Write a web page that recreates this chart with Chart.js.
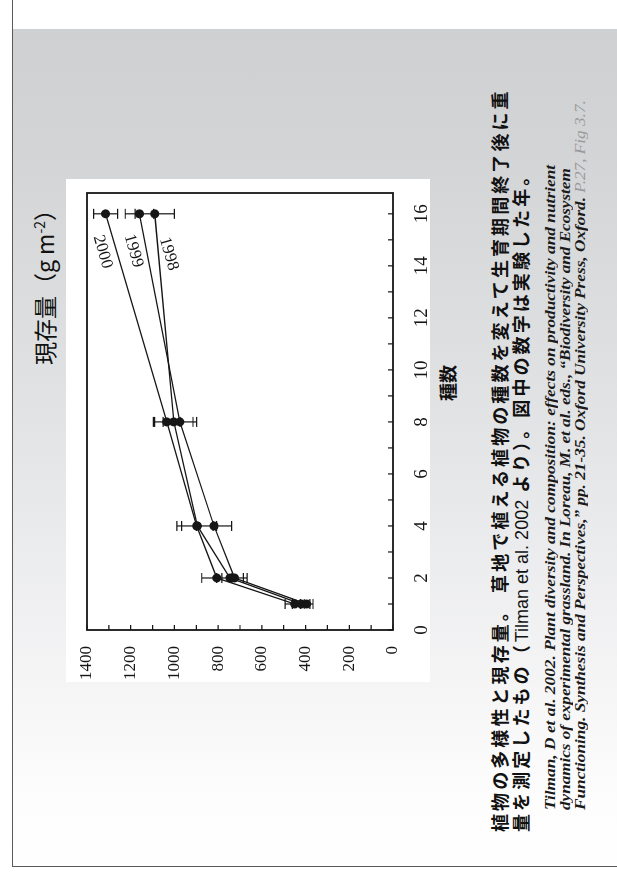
<!DOCTYPE html>
<html lang="ja">
<head>
<meta charset="utf-8">
<title>植物の多様性と現存量</title>
<script src="https://cdn.jsdelivr.net/npm/chart.js@4/dist/chart.umd.min.js"></script>
<style>
  html, body { margin: 0; padding: 0; width: 617px; height: 872px; overflow: hidden; background: #fff; }
  /* the slide is laid out landscape and turned a quarter turn */
  #stage { position: absolute; left: 0; top: 0; width: 872px; height: 617px;
           transform-origin: 0 0; transform: translateY(872px) rotate(-90deg); }
  #panel { position: absolute; left: 5px; top: 12px; width: 867px; height: 605px;
           border-left: 1.5px solid #5a5a5a; border-top: 1.5px solid #5a5a5a;
           background: linear-gradient(to right, #fefefe 0px, #fdfdfd 67px, #f6f6f7 167px,
                       #e1e2e4 467px, #d3d4d6 717px, #cfd0d2 837px, #fff 837px, #fff 867px); }
  #chartBox { position: absolute; left: 190px; top: 66px; width: 503px; height: 364px; background: #fff; }
  #chartBox canvas { display: block; }
  .ytitle { position: absolute; left: 507px; top: 29px; font: 400 23px "Noto Sans CJK JP", sans-serif;
            color: #111; white-space: nowrap; line-height: 30px; }
  .ytitle sup { font-size: 14px; vertical-align: 9px; line-height: 0; }
  .xtitle { position: absolute; left: 471px; top: 434px; font: 700 18px "Noto Sans CJK JP", sans-serif;
            color: #111; white-space: nowrap; line-height: 26px; }
  .caption { position: absolute; left: 40px; font: 700 18px "Noto Sans CJK JP", sans-serif;
             color: #111; white-space: nowrap; line-height: 21px; }
  .caption .lat { font-family: "Liberation Sans", sans-serif; font-weight: 400; letter-spacing: 0; }
  .cite { position: absolute; left: 62px; font: italic 700 14px "Liberation Serif", serif; color: #1a1a1a;
          white-space: nowrap; line-height: 15px; transform-origin: 0 50%; }
  .cite .pg { color: #9a9a9a; font-weight: 400; }
</style>
</head>
<body>
<div id="stage">
  <div id="panel"></div>
  <div id="chartBox"><canvas id="chart" width="503" height="364"></canvas></div>
  <div class="ytitle">現存量（g m<sup>-2</sup>）</div>
  <div class="xtitle">種数</div>
  <div class="caption" id="cap1" style="top:489px">植物の多様性と現存量。 草地で植える植物の種数を変えて生育期間終了後に重</div>
  <div class="caption" id="cap2" style="top:510px">量を測定したもの（<span class="lat">Tilman et al. 2002</span> より）。図中の数字は実験した年。</div>
  <div class="cite" id="cite1" style="top:543px">Tilman, D et al. 2002. Plant diversity and composition: effects on productivity and nutrient</div>
  <div class="cite" id="cite2" style="top:558px">dynamics of experimental grassland. In Loreau, M. et al. eds., “Biodiversity and Ecosystem</div>
  <div class="cite" id="cite3" style="top:573px">Functioning. Synthesis and Perspectives,” pp. 21-35. Oxford University Press, Oxford. <span class="pg">P.27, Fig 3.7.</span></div>
</div>
<script>
// number of planted species and standing biomass (g m-2) at the end of each season
const species = [1, 2, 4, 8, 16];
const years = ['2000', '1999', '1998'];
const biomass2000 = [450, 806, 898, 1035, 1315];
const biomass1999 = [395, 725, 819, 975, 1160];
const biomass1998 = [420, 746, 895, 1003, 1090];
const err2000 = [44, 69, 91, 61, 55];
const err1999 = [29, 58, 81, 77, 65];
const err1998 = [40, 61, 72, 88, 90];
const xTickLabels = [0, 2, 4, 6, 8, 10, 12, 14, 16];
const yTickLabels = [0, 200, 400, 600, 800, 1000, 1200, 1400];

const seriesValues = [biomass2000, biomass1999, biomass1998];
const seriesErrors = [err2000, err1999, err1998];
// where each year label sits relative to the last point of its line (px) and its tilt
const yearLabelOffsets = [[-38, -3], [-37, -6], [-40, 14]];
const yearLabelAngle = 164 * Math.PI / 180;

const ink = '#161616';

const errorBars = {
  id: 'errorBars',
  beforeDatasetsDraw(chart) {
    const { ctx, scales: { x, y } } = chart;
    ctx.save();
    ctx.strokeStyle = ink;
    ctx.lineWidth = 1.2;
    ctx.beginPath();
    seriesValues.forEach((vals, i) => {
      vals.forEach((v, j) => {
        const px = x.getPixelForValue(species[j]);
        const lo = y.getPixelForValue(v - seriesErrors[i][j]);
        const hi = y.getPixelForValue(v + seriesErrors[i][j]);
        ctx.moveTo(px, lo); ctx.lineTo(px, hi);
        ctx.moveTo(px - 5, lo); ctx.lineTo(px + 5, lo);
        ctx.moveTo(px - 5, hi); ctx.lineTo(px + 5, hi);
      });
    });
    ctx.stroke();
    ctx.restore();
  }
};

const frameAndTicks = {
  id: 'frameAndTicks',
  afterDraw(chart) {
    const { ctx, chartArea: a, scales: { x, y } } = chart;
    ctx.save();
    ctx.strokeStyle = ink;
    ctx.lineWidth = 1.2;
    ctx.beginPath();
    x.ticks.forEach(t => {
      const px = x.getPixelForValue(t.value);
      ctx.moveTo(px, a.bottom); ctx.lineTo(px, a.bottom - 5);
    });
    y.ticks.forEach(t => {
      const py = y.getPixelForValue(t.value);
      ctx.moveTo(a.left, py); ctx.lineTo(a.left + 5, py);
    });
    ctx.stroke();
    ctx.lineWidth = 1.8;
    ctx.strokeRect(a.left, a.top, a.right - a.left, a.bottom - a.top);
    ctx.restore();
  }
};

const yearLabels = {
  id: 'yearLabels',
  afterDatasetsDraw(chart) {
    const { ctx, scales: { x, y } } = chart;
    const last = species.length - 1;
    ctx.save();
    ctx.fillStyle = ink;
    ctx.font = '17px "Liberation Serif", serif';
    ctx.textAlign = 'center';
    ctx.textBaseline = 'middle';
    years.forEach((yr, i) => {
      const px = x.getPixelForValue(species[last]) + yearLabelOffsets[i][0];
      const py = y.getPixelForValue(seriesValues[i][last]) + yearLabelOffsets[i][1];
      ctx.save();
      ctx.translate(px, py);
      ctx.rotate(yearLabelAngle);
      ctx.fillText(yr, 0, 0);
      ctx.restore();
    });
    ctx.restore();
  }
};

const minorX = [];
for (let v = 0; v <= 16; v++) minorX.push(v);

new Chart(document.getElementById('chart'), {
  type: 'line',
  data: {
    datasets: years.map((yr, i) => ({
      label: yr,
      data: species.map((s, j) => ({ x: s, y: seriesValues[i][j] })),
      borderColor: ink,
      backgroundColor: ink,
      borderWidth: 1.3,
      pointRadius: 4.5,
      pointBorderWidth: 0,
      pointBackgroundColor: ink,
      tension: 0
    }))
  },
  options: {
    responsive: false,
    animation: false,
    devicePixelRatio: 1,
    layout: { padding: { top: 21, right: 14, left: 0, bottom: 0 } },
    plugins: { legend: { display: false }, tooltip: { enabled: false } },
    scales: {
      x: {
        type: 'linear', min: 0, max: 16.8,
        afterBuildTicks: s => { s.ticks = minorX.map(v => ({ value: v })); },
        afterFit: s => { s.height = 37; },
        grid: { display: false }, border: { display: false },
        ticks: {
          autoSkip: false, maxRotation: 0, padding: 10, color: ink,
          font: { family: '"Liberation Serif", serif', size: 19 },
          callback: v => xTickLabels.includes(v) ? String(v) : ''
        }
      },
      y: {
        type: 'linear', min: 0, max: 1400,
        ticks: {
          stepSize: 100, autoSkip: false, padding: 8, color: ink,
          font: { family: '"Liberation Serif", serif', size: 17 },
          callback: v => yTickLabels.includes(v) ? String(v) : ''
        },
        afterFit: s => { s.width = 52; },
        grid: { display: false }, border: { display: false }
      }
    }
  },
  plugins: [errorBars, frameAndTicks, yearLabels]
});

// spread the caption and squeeze the reference lines to their set lengths
function fitWidth(el, target) {
  const w = el.scrollWidth;
  el.style.transform = 'scaleX(' + (target / w) + ')';
}
const cap1 = document.getElementById('cap1');
const cap2 = document.getElementById('cap2');
const n1 = cap1.textContent.length;
const ls = (744 - cap1.scrollWidth) / n1;
cap1.style.letterSpacing = ls + 'px';
cap2.style.letterSpacing = ls + 'px';
fitWidth(document.getElementById('cite1'), 645);
fitWidth(document.getElementById('cite2'), 642);
fitWidth(document.getElementById('cite3'), 710);
</script>
</body>
</html>
